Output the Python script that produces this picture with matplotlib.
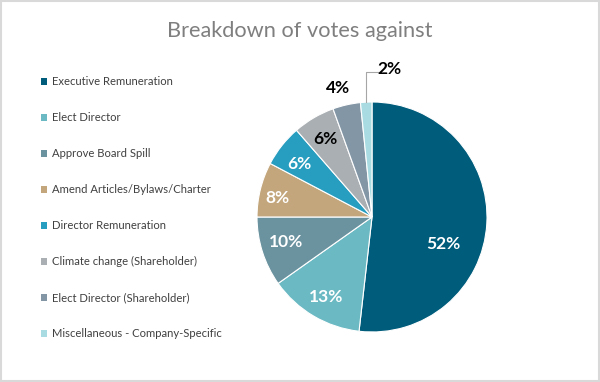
import numpy as np
import matplotlib
matplotlib.use("Agg")
import matplotlib.pyplot as plt
from matplotlib.patches import Rectangle

# data
categories = ["Executive Remuneration", "Elect Director", "Approve Board Spill",
              "Amend Articles/Bylaws/Charter", "Director Remuneration",
              "Climate change (Shareholder)", "Elect Director (Shareholder)",
              "Miscellaneous - Company-Specific"]
shares = [51.8, 13.4, 9.8, 7.7, 5.9, 5.9, 3.9, 1.6]
colors = ["#005c7b", "#6bb9c3", "#6a929f", "#c3a67c", "#279dbf",
          "#a9afb3", "#8396a6", "#a8dce2"]
label_colors = ["white", "white", "white", "white", "white", "black", "black", "black"]
# where each percentage label sits: radius fraction, angle in degrees
label_r = [0.66, 0.80, 0.78, 0.84, 0.78, 0.79, 1.16, 1.30]
label_ang = [-20.5, -120, -163.7, 168.7, 143.6, 120.8, 104.7, 83]

plt.rcParams['font.family'] = ['Lato', 'DejaVu Sans']

fig = plt.figure(figsize=(6, 3.82), dpi=100)
fig.patch.set_facecolor("white")

ax = fig.add_axes([0.3325, -0.0196, 0.575, 0.9031])
wedges, texts, autotexts = ax.pie(shares, colors=colors, startangle=90, counterclock=False,
                                  autopct="%.0f%%", wedgeprops=dict(linewidth=0.8, edgecolor="white"),
                                  textprops=dict(fontsize=12.5, fontweight="bold"))
for t, r, a, c in zip(autotexts, label_r, label_ang, label_colors):
    t.set_position((r * np.cos(np.radians(a)), r * np.sin(np.radians(a))))
    t.set_color(c)

# leader line for the smallest slice
w = wedges[-1]
mid = np.radians((w.theta1 + w.theta2) / 2)
x0, y0 = np.cos(mid) * 1.0, np.sin(mid) * 1.0
ax.plot([x0, x0, x0 + 0.1], [y0, 1.26, 1.26], color="#a6a6a6", lw=0.8, clip_on=False)
autotexts[-1].set_ha("left")
autotexts[-1].set_position((x0 + 0.1, 1.29))

ax.set_xlim(-1.5, 1.5)
ax.set_ylim(-1.5, 1.5)

fig.text(0.5, 0.918, "Breakdown of votes against", ha="center", va="center",
         fontsize=15.7, color="#7f7f7f")

handles = [Rectangle((0, 0), 1, 1, facecolor=c, edgecolor="none") for c in colors]
leg = fig.legend(handles, categories, loc="upper left", bbox_to_anchor=(0.06, 0.812),
                 frameon=False, fontsize=8.1, labelspacing=2.22, handlelength=0.6,
                 handleheight=0.6, handletextpad=0.4, borderaxespad=0)
for t in leg.get_texts():
    t.set_color("#404040")

fig.add_artist(Rectangle((0.002, 0.003), 0.996, 0.994, transform=fig.transFigure,
                         fill=False, edgecolor="#d9d9d9", lw=1.5))

fig.savefig("out.png", dpi=100)
